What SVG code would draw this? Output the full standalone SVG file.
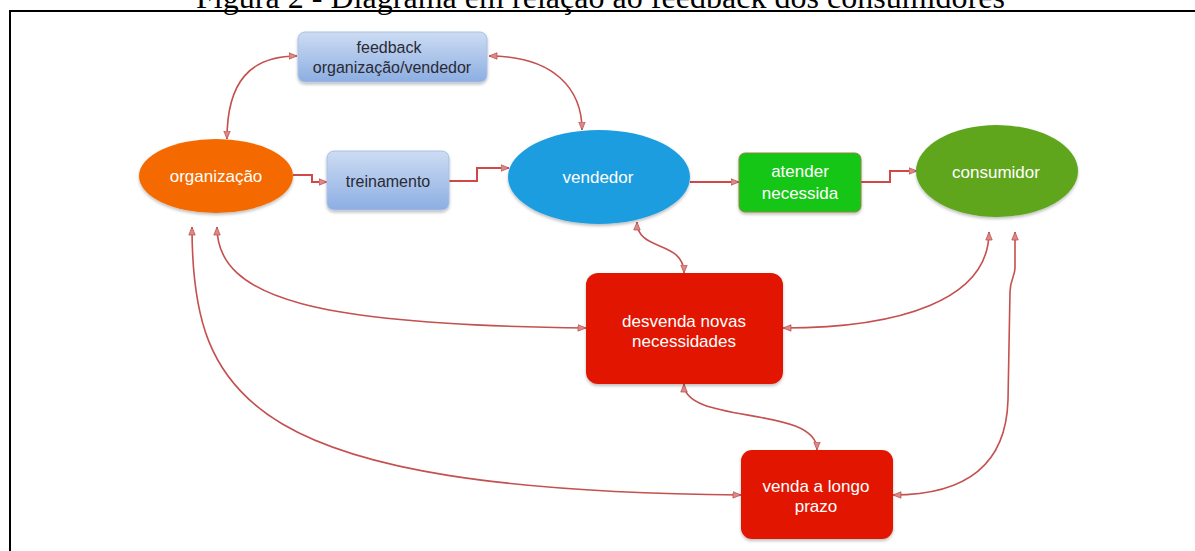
<svg xmlns="http://www.w3.org/2000/svg" width="1195" height="551" viewBox="0 0 1195 551">
<defs>
<style>
.frame{stroke:#000;stroke-width:2;fill:none}
.title{font-family:"Liberation Serif","Times New Roman",serif;font-size:32px;fill:#000}
.lbl{font-family:"Liberation Sans",Arial,sans-serif;text-anchor:middle}
.w{fill:#ffffff;font-size:17px}
.d{fill:#2a2a35;font-size:16px}
.con{fill:none;stroke:#c4504f;stroke-width:1.6;marker-start:url(#ah);marker-end:url(#ah)}
.one{fill:none;stroke:#d04848;stroke-width:2;marker-end:url(#ah)}
</style>
<marker id="ah" viewBox="0 0 10 10" refX="10" refY="5" markerWidth="9" markerHeight="8" markerUnits="userSpaceOnUse" orient="auto-start-reverse">
<path d="M0,1 L10,5 L0,9 z" fill="#d98a8a" stroke="#c4504f" stroke-width="1"/>
</marker>
<linearGradient id="blue" x1="0" y1="0" x2="0" y2="1">
<stop offset="0" stop-color="#cddcf3"/>
<stop offset="1" stop-color="#8caee2"/>
</linearGradient>
<filter id="sh" x="-10%" y="-10%" width="120%" height="130%">
<feDropShadow dx="0" dy="2" stdDeviation="1.5" flood-color="#000" flood-opacity="0.25"/>
</filter>
</defs>
<rect width="1195" height="551" fill="#fff"/>
<text class="title" x="196" y="8" textLength="809">Figura 2 - Diagrama em relação ao feedback dos consumidores</text>
<path class="frame" d="M10,551 V11 H1195"/>

<g id="connectors">
<path class="con" d="M297,56 C250,56 227,82 227,139"/>
<path class="con" d="M489,56 C555,56 582,90 582,130"/>
<path class="one" d="M293,175 L312,175 L312,182 L327,182"/>
<path class="one" d="M449,181 L477,181 L477,168 L509,168"/>
<path class="one" d="M690,182 L739,182"/>
<path class="one" d="M861,182 L890,182 L890,171 L917,171"/>
<path class="con" d="M637,222 C637,252 684,240 684,273"/>
<path class="con" d="M217,227 C217,300 320,325 586,328"/>
<path class="con" d="M192,227 C192,400 250,490 741,495"/>
<path class="con" d="M989,232 C989,300 900,328 783,328"/>
<path class="con" d="M1015,232 L1015,268 C1015,276 1010,280 1010,292 L1008,400 C1006,470 960,495 893,495"/>
<path class="con" d="M684,384 C684,425 817,405 817,450"/>
</g>

<g id="feedback">
<rect x="298" y="32" width="189" height="50" rx="7" fill="url(#blue)" stroke="#a9c1e4" stroke-width="1" filter="url(#sh)"/>
<text class="lbl d" x="389" y="53">feedback</text>
<text class="lbl d" x="392" y="73">organização/vendedor</text>
</g>
<g id="organizacao">
<ellipse cx="216" cy="176" rx="77" ry="37" fill="#f46b06" filter="url(#sh)"/>
<text class="lbl w" x="216" y="182" font-size="18">organização</text>
</g>
<g id="treinamento">
<rect x="327" y="151" width="122" height="59" rx="7" fill="url(#blue)" stroke="#a9c1e4" stroke-width="1" filter="url(#sh)"/>
<text class="lbl d" x="388" y="187">treinamento</text>
</g>
<g id="vendedor">
<ellipse cx="599" cy="177" rx="91" ry="47" fill="#1c9de0" filter="url(#sh)"/>
<text class="lbl w" x="598" y="183">vendedor</text>
</g>
<g id="atender">
<rect x="739" y="153" width="122" height="59" rx="6" fill="#16c613" stroke="#8a8a3a" stroke-width="1" filter="url(#sh)"/>
<text class="lbl w" x="800" y="177" font-size="16">atender</text>
<text class="lbl w" x="800" y="199" font-size="16">necessida</text>
</g>
<g id="consumidor">
<ellipse cx="997" cy="171" rx="81" ry="46" fill="#5ea61e" filter="url(#sh)"/>
<text class="lbl w" x="996" y="178" fill="#f4fbe2">consumidor</text>
</g>
<g id="desvenda">
<rect x="586" y="273" width="197" height="111" rx="12" fill="#e21500" filter="url(#sh)"/>
<text class="lbl w" x="684" y="327">desvenda novas</text>
<text class="lbl w" x="684" y="347">necessidades</text>
</g>
<g id="venda">
<rect x="741" y="450" width="152" height="89" rx="11" fill="#e21500" filter="url(#sh)"/>
<text class="lbl w" x="816" y="492">venda a longo</text>
<text class="lbl w" x="816" y="512">prazo</text>
</g>
</svg>
